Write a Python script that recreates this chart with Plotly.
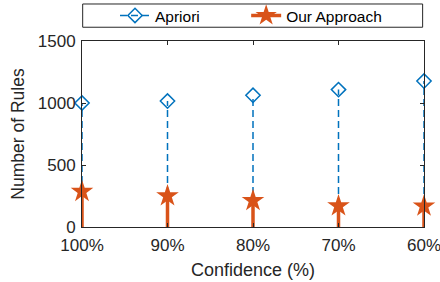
import plotly.graph_objects as go

categories = ['100%', '90%', '80%', '70%', '60%']
apriori = [1000, 1016, 1062, 1108, 1177]
ours = [286, 251, 213, 170, 168]
y_ticks = [0, 500, 1000, 1500]

BLUE = '#0072BD'
ORANGE = '#D95319'
AX = '#262626'
FONT = 'Liberation Sans, Arial, sans-serif'


def stems(cats, vals):
    xs, ys = [], []
    for c, v in zip(cats, vals):
        xs += [c, c, None]
        ys += [0, v, None]
    return xs, ys


fig = go.Figure()

ax, ay = stems(categories, apriori)
fig.add_trace(go.Scatter(x=ax, y=ay, mode='lines', showlegend=False,
                         line=dict(color=BLUE, width=1.5, dash='7px,4px'),
                         hoverinfo='skip', cliponaxis=False))
fig.add_trace(go.Scatter(x=categories, y=apriori, mode='markers', showlegend=False,
                         marker=dict(symbol='diamond-open', size=11, color=BLUE,
                                     line=dict(width=1.5, color=BLUE)),
                         cliponaxis=False))

ox, oy = stems(categories, ours)
fig.add_trace(go.Scatter(x=ox, y=oy, mode='lines', showlegend=False,
                         line=dict(color=ORANGE, width=3.5),
                         hoverinfo='skip', cliponaxis=False))
fig.add_trace(go.Scatter(x=categories, y=ours, mode='markers', showlegend=False,
                         marker=dict(symbol='star', size=17, color=ORANGE,
                                     line=dict(width=0)),
                         cliponaxis=False))

# legend entries
fig.add_trace(go.Scatter(x=[None], y=[None], mode='lines+markers', name='Apriori',
                         legend='legend',
                         line=dict(color=BLUE, width=1.5, dash='7px,4px'),
                         marker=dict(symbol='diamond-open', size=11, color=BLUE,
                                     line=dict(width=1.5, color=BLUE))))
fig.add_trace(go.Scatter(x=[None], y=[None], mode='lines+markers', name='Our Approach',
                         legend='legend2',
                         line=dict(color=ORANGE, width=3.5),
                         marker=dict(symbol='star', size=17, color=ORANGE,
                                     line=dict(width=0))))

leg_common = dict(orientation='h', xanchor='left', y=1.135, yanchor='middle',
                  font=dict(family=FONT, size=15.5, color='#000000'),
                  bgcolor='rgba(0,0,0,0)', borderwidth=0, itemclick=False)

fig.update_layout(
    width=440, height=282,
    margin=dict(l=82, r=16, t=41, b=55, autoexpand=False),
    paper_bgcolor='white', plot_bgcolor='white',
    font=dict(family=FONT, size=17, color=AX),
    showlegend=True,
    legend=dict(x=0.0965, **leg_common),
    legend2=dict(x=0.48, **leg_common),
    shapes=[dict(type='rect', xref='paper', yref='paper',
                 x0=0.002, x1=0.996, y0=1.074, y1=1.199,
                 line=dict(color=AX, width=1), fillcolor='rgba(0,0,0,0)')],
    xaxis=dict(type='category', range=[0, 4], showline=True, mirror='ticks',
               linecolor=AX, linewidth=1, ticks='inside', ticklen=4, tickcolor=AX,
               showgrid=False, zeroline=False, automargin=False, ticklabelstandoff=3,
               title=dict(text='Confidence (%)', font=dict(size=18), standoff=8),
               tickfont=dict(size=17)),
    yaxis=dict(range=[0, 1500], tickvals=y_ticks, showline=True, mirror='ticks',
               linecolor=AX, linewidth=1, ticks='inside', ticklen=4, tickcolor=AX,
               showgrid=False, zeroline=False, ticklabelstandoff=2, automargin=False,
               title=dict(text='Number of Rules', font=dict(size=17.5), standoff=8),
               tickfont=dict(size=17)),
)

fig.write_html('out.html', config={'displayModeBar': False},
               post_script="document.body.style.margin='0';")
